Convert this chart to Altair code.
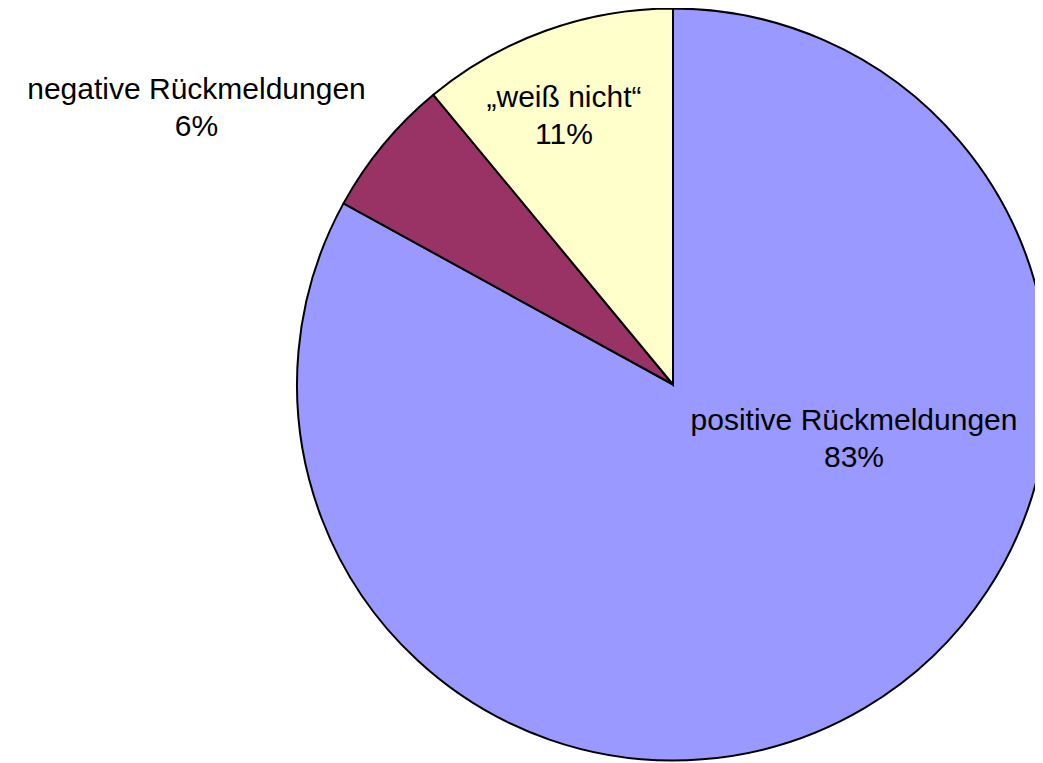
import altair as alt
import pandas as pd

categories = ["positive Rückmeldungen", "negative Rückmeldungen", "\u201eweiß nicht\u201c"]
values = [83, 6, 11]
colors = ["#9999FF", "#993366", "#FFFFCC"]
order = [0, 1, 2]

df = pd.DataFrame({"category": categories, "value": values, "order": order})

W, H = 1027, 755
CX, CY, R = 665, 376.5, 376

pie = alt.Chart(df).mark_arc(
    stroke="black", strokeWidth=2, radius=R
).encode(
    theta=alt.Theta("value:Q", stack=True),
    order=alt.Order("order:Q", sort="ascending"),
    color=alt.Color("category:N", scale=alt.Scale(domain=categories, range=colors), legend=None),
    x=alt.value(CX),
    y=alt.value(CY),
)

label_pos = {
    categories[0]: (846, 422),
    categories[1]: (188.5, 91),
    categories[2]: (556, 99),
}

texts = []
for cat in categories:
    px, py = label_pos[cat]
    t = alt.Chart(df).transform_filter(
        alt.datum.category == cat
    ).transform_calculate(
        lab="datum.category + '\\n' + datum.value + '%'"
    ).mark_text(
        font="Liberation Sans", fontSize=30, lineBreak="\n", lineHeight=36.5,
        align="center", baseline="alphabetic", color="black"
    ).encode(
        text="lab:N",
        x=alt.value(px),
        y=alt.value(py),
    )
    texts.append(t)

chart = alt.layer(pie, *texts).properties(
    width=W, height=H, padding=0, autosize=alt.AutoSizeParams(type="none")
).configure_view(stroke=None)

chart.save("out.html", embed_options={"renderer": "svg", "actions": False})
